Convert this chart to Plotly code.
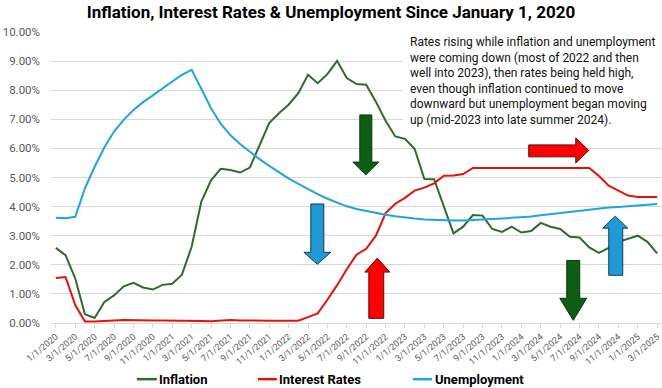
import plotly.graph_objects as go

# ---------------- data ----------------
months = [f"{m}/1/{y}" for y in range(2020, 2026) for m in range(1, 13)][:63]

inflation = [2.58, 2.33, 1.53, 0.30, 0.17, 0.72, 0.95, 1.26, 1.38, 1.22, 1.15, 1.31,
             1.35, 1.66, 2.62, 4.17, 4.90, 5.30, 5.26, 5.17, 5.34, 6.12, 6.87, 7.21,
             7.50, 7.90, 8.53, 8.24, 8.55, 9.01, 8.42, 8.21, 8.19, 7.60, 6.95, 6.41,
             6.33, 5.98, 4.95, 4.94, 4.00, 3.08, 3.31, 3.71, 3.69, 3.23, 3.13, 3.31,
             3.11, 3.16, 3.44, 3.31, 3.23, 2.96, 2.94, 2.60, 2.41, 2.58, 2.79, 2.90,
             3.00, 2.79, 2.39]

interest_rates = [1.55, 1.58, 0.62, 0.05, 0.05, 0.08, 0.09, 0.10, 0.09, 0.09, 0.09, 0.09,
                  0.09, 0.08, 0.07, 0.07, 0.06, 0.08, 0.10, 0.09, 0.08, 0.08, 0.08, 0.08,
                  0.08, 0.08, 0.20, 0.33, 0.80, 1.30, 1.85, 2.35, 2.55, 3.00, 3.78, 4.10,
                  4.30, 4.55, 4.65, 4.80, 5.06, 5.07, 5.12, 5.33, 5.33, 5.33, 5.33, 5.33,
                  5.33, 5.33, 5.33, 5.33, 5.33, 5.33, 5.33, 5.33, 5.05, 4.72, 4.55, 4.38,
                  4.33, 4.33, 4.33]

unemployment = [3.62, 3.60, 3.65, 4.63, 5.37, 6.03, 6.58, 6.98, 7.32, 7.59, 7.82, 8.07,
                8.30, 8.53, 8.70, 8.05, 7.38, 6.85, 6.45, 6.15, 5.88, 5.63, 5.40, 5.18,
                4.97, 4.78, 4.60, 4.43, 4.27, 4.13, 4.01, 3.92, 3.85, 3.78, 3.72, 3.67,
                3.62, 3.59, 3.56, 3.54, 3.52, 3.52, 3.52, 3.53, 3.55, 3.57, 3.59, 3.61,
                3.63, 3.66, 3.70, 3.74, 3.78, 3.83, 3.87, 3.91, 3.95, 3.97, 3.99, 4.02,
                4.04, 4.07, 4.09]

tick_idx = list(range(0, len(months), 2))
tick_labels = [months[i] for i in tick_idx]
y_ticks = list(range(0, 11))

series_names = ["Inflation", "Interest Rates", "Unemployment"]
note_text = ("Rates rising while inflation and unemployment<br>"
             "were coming down (most of 2022 and then<br>"
             "well into 2023), then rates being held high,<br>"
             "even though inflation continued to move<br>"
             "downward but unemployment began moving<br>"
             "up (mid-2023 into late summer 2024).")

# ---------------- style ----------------
GREEN = "#2e6b2e"
RED = "#e3120b"
BLUE = "#1fa5de"
GRID = "#d9d9d9"
TXT = "#595959"
HEAD = "Roboto, sans-serif"
BODY = "Roboto, sans-serif"

x = list(range(len(months)))
fig = go.Figure()
for name, vals, col in zip(series_names, [inflation, interest_rates, unemployment],
                           [GREEN, RED, BLUE]):
    fig.add_trace(go.Scatter(x=x, y=vals, mode="lines", name=name,
                             customdata=months, showlegend=False,
                             line=dict(color=col, width=2),
                             hovertemplate="%{customdata}: %{y:.2f}%<extra>" + name + "</extra>"))


def poly(points):
    return "M " + " L ".join(f"{a},{b}" for a, b in points) + " Z"


def arrow_v(sl, sr, hl, hr, base, hs, tip):
    c = (hl + hr) / 2
    return poly([(sl, base), (sr, base), (sr, hs), (hr, hs), (c, tip), (hl, hs), (sl, hs)])


def arrow_h(x0, hx, tipx, s0, s1, h0, h1):
    c = (h0 + h1) / 2
    return poly([(x0, s0), (hx, s0), (hx, h0), (tipx, c), (hx, h1), (hx, s1), (x0, s1)])


arrows = [
    (arrow_v(31.34, 32.58, 30.62, 33.30, 7.15, 5.53, 5.09), "#0b5e12", "#083d0c"),
    (arrow_v(26.29, 27.63, 25.57, 28.35, 4.09, 2.43, 2.02), "#1e9ad6", "#0d3d57"),
    (arrow_v(32.27, 33.81, 31.86, 34.43, 0.16, 1.75, 2.23), "#ff0000", "#5a0c0c"),
    (arrow_h(48.76, 53.61, 54.95, 6.12, 5.71, 6.36, 5.50), "#ff0000", "#5a0c0c"),
    (arrow_v(52.68, 54.02, 51.96, 54.74, 2.15, 0.85, 0.09), "#0b5e12", "#083d0c"),
    (arrow_v(57.01, 58.45, 56.39, 58.97, 1.64, 3.26, 3.67), "#1e9ad6", "#0d3d57"),
]

shapes = [dict(type="rect", xref="x", yref="y", x0=35.8, x1=62.5, y0=6.45, y1=10.2,
               fillcolor="white", line=dict(width=0), layer="between")]
for path, fill, edge in arrows:
    shapes.append(dict(type="path", xref="x", yref="y", path=path, fillcolor=fill,
                       line=dict(color=edge, width=1), layer="above"))

# manual legend (paper coords)
leg_line_x = [(0.1405, 0.1733), (0.3386, 0.3697), (0.5923, 0.6234)]
leg_y = -0.193
annotations = []
for (a, b), name, col in zip(leg_line_x, series_names, [GREEN, RED, BLUE]):
    shapes.append(dict(type="line", xref="paper", yref="paper", x0=a, x1=b, y0=leg_y, y1=leg_y,
                       line=dict(color=col, width=2.5)))
    annotations.append(dict(xref="paper", yref="paper", x=b + 0.001, y=leg_y, text="<b>" + name + "</b>",
                            showarrow=False, xanchor="left", yanchor="middle",
                            font=dict(family=HEAD, size=13, color="#000000")))

annotations.append(dict(xref="x", yref="y", x=36.3, y=9.95, text=note_text, showarrow=False,
                        xanchor="left", yanchor="top", align="left",
                        font=dict(family=BODY, size=12, color="#111111")))

fig.update_layout(
    width=662, height=388,
    margin=dict(l=51, r=0, t=32, b=65),
    paper_bgcolor="white", plot_bgcolor="white",
    title=dict(text="<b>Inflation, Interest Rates & Unemployment Since January 1, 2020</b>",
               x=0.5, xref="container", xanchor="center", y=0.968, yref="container", yanchor="middle",
               font=dict(family=HEAD, size=17, color="#000000")),
    xaxis=dict(range=[-0.5, 62.5], tickmode="array", tickvals=tick_idx, ticktext=tick_labels,
               tickangle=-40, tickfont=dict(family=BODY, size=9, color=TXT),
               showgrid=False, zeroline=False, showline=True, linecolor=GRID,
               ticks="outside", ticklen=4, tickcolor=GRID, automargin=False, fixedrange=True),
    yaxis=dict(range=[0, 10], tickmode="array", tickvals=y_ticks,
               ticktext=[f"{v:.2f}%" for v in y_ticks],
               tickfont=dict(family=BODY, size=11.5, color=TXT),
               showgrid=True, gridcolor=GRID, gridwidth=1, zeroline=False, showline=False,
               ticks="", ticklabelstandoff=10, automargin=False, fixedrange=True),
    shapes=shapes,
    annotations=annotations,
    hovermode="closest",
)

fig.write_html("out.html", config={"displayModeBar": False},
               post_script="document.body.style.margin='0px';")
